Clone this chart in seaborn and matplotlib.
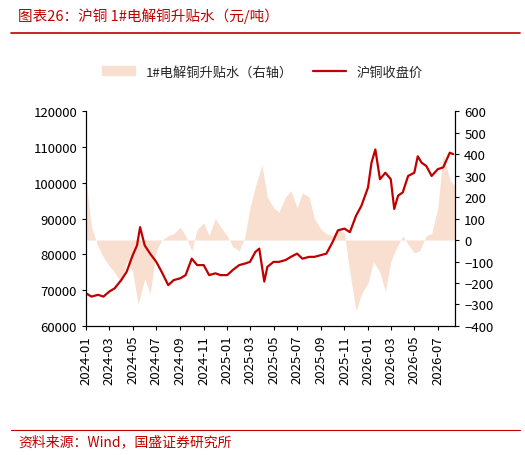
import matplotlib
matplotlib.use("Agg")
import matplotlib.pyplot as plt
import matplotlib.dates as mdates
import pandas as pd
import seaborn as sns
from matplotlib.patches import Patch
from matplotlib.lines import Line2D

sns.set_style("white")
plt.rcParams["font.family"] = ["Noto Sans CJK SC", "DejaVu Sans"]

RED = "#C00000"
PINK = "#F8DFCF"

price_dates = [
    "2024-01-01", "2024-01-15", "2024-02-01", "2024-02-15", "2024-03-01", "2024-03-15",
    "2024-04-01", "2024-04-15", "2024-05-01", "2024-05-12", "2024-05-20", "2024-06-01",
    "2024-06-15", "2024-07-01", "2024-07-15", "2024-08-01", "2024-08-15", "2024-09-01",
    "2024-09-15", "2024-10-01", "2024-10-15", "2024-11-01", "2024-11-15", "2024-12-01",
    "2024-12-15", "2025-01-01", "2025-01-15", "2025-02-01", "2025-02-15", "2025-03-01",
    "2025-03-15", "2025-03-25", "2025-04-07", "2025-04-15", "2025-05-01", "2025-05-15",
    "2025-06-01", "2025-06-15", "2025-07-01", "2025-07-15", "2025-08-01", "2025-08-15",
    "2025-09-01", "2025-09-15", "2025-10-01", "2025-10-15", "2025-11-01", "2025-11-15",
    "2025-12-01", "2025-12-15", "2026-01-01", "2026-01-10", "2026-01-20", "2026-02-01",
    "2026-02-15", "2026-03-01", "2026-03-10", "2026-03-20", "2026-04-01", "2026-04-15",
    "2026-05-01", "2026-05-10", "2026-05-20", "2026-06-01", "2026-06-15", "2026-07-01",
    "2026-07-15", "2026-08-01", "2026-08-10",
]
price = [
    69100, 68200, 68700, 68200, 69600, 70500,
    72800, 75100, 79800, 82500, 87600, 82500,
    80200, 77900, 75100, 71400, 72800, 73300,
    74200, 78800, 77000, 77000, 74200, 74700,
    74200, 74200, 75600, 77000, 77400, 77900,
    80700, 81600, 72400, 76500, 77900, 77900,
    78400, 79300, 80200, 78800, 79300, 79300,
    79800, 80200, 83400, 86700, 87200, 86200,
    90800, 93600, 98700, 105600, 109300, 101000,
    102800, 101000, 92700, 96400, 97300, 101900,
    102800, 107400, 105600, 104700, 101900, 103800,
    104300, 108400, 108000,
]

premium_dates = pd.date_range("2024-01-01", "2026-08-15", freq="SMS")
premium = [
    270, 60, -30, -80, -120, -150, -200, -100, -150, -300, -180, -250,
    -50, 0, 20, 30, 60, 20, -50, 50, 80, 20, 100, 60,
    20, -30, -50, 10, 150, 250, 350, 200, 150, 130, 200, 230,
    150, 220, 200, 100, 50, 30, 20, 50, 30, -150, -330, -250,
    -200, -100, -150, -240, -100, -40, 20, -20, -60, -50, 20, 30,
    150, 400, 280, 250,
]

df_p = pd.DataFrame({"date": pd.to_datetime(price_dates), "price": price})
df_b = pd.DataFrame({"date": premium_dates, "premium": premium})

fig = plt.figure(figsize=(5.25, 4.56), dpi=100)
ax = fig.add_axes([0.164, 0.283, 0.703, 0.471])
ax2 = ax.twinx()

ax2.fill_between(df_b["date"], 0, df_b["premium"], color=PINK, linewidth=0, zorder=1)
ax2.set_ylim(-400, 600)
ax2.set_yticks(range(-400, 601, 100))
ax.set_zorder(ax2.get_zorder() + 1)
ax.patch.set_visible(False)

sns.lineplot(data=df_p, x="date", y="price", ax=ax, color=RED, linewidth=1.6)
ax.set_ylim(60000, 120000)
ax.set_yticks(range(60000, 120001, 10000))
ax.set_xlim(pd.Timestamp("2024-01-01"), pd.Timestamp("2026-08-15"))
ax.xaxis.set_major_locator(mdates.MonthLocator(bymonth=[1, 3, 5, 7, 9, 11]))
ax.xaxis.set_major_formatter(mdates.DateFormatter("%Y-%m"))
ax.set_xlabel("")
ax.set_ylabel("")
ax2.set_ylabel("")
for a in (ax, ax2):
    a.tick_params(labelsize=9.5, length=3, direction="out", colors="black")
    a.spines["top"].set_visible(False)
    for s in ("left", "right", "bottom"):
        a.spines[s].set_color("black")
        a.spines[s].set_linewidth(0.8)
plt.setp(ax.get_xticklabels(), rotation=90)
ax.tick_params(axis="x", bottom=True)
ax.tick_params(axis="y", left=True)
ax2.tick_params(axis="y", right=True)

handles = [Patch(color=PINK, label="1#电解铜升贴水（右轴）"),
           Line2D([], [], color=RED, linewidth=1.6, label="沪铜收盘价")]
fig.legend(handles=handles, loc="center", bbox_to_anchor=(0.5, 0.84), ncol=2,
           frameon=False, fontsize=9.5, handlelength=2.5, columnspacing=1.5)

fig.text(0.035, 0.965, "图表26：沪铜 1#电解铜升贴水（元/吨）", color=RED,
         fontsize=10.5, style="italic", va="center")
fig.add_artist(Line2D([0.02, 0.99], [0.925, 0.925], color=RED, linewidth=1.2))
fig.add_artist(Line2D([0.02, 0.99], [0.055, 0.055], color=RED, linewidth=0.8))
fig.text(0.035, 0.03, "资料来源：Wind，国盛证券研究所", color=RED,
         fontsize=10, style="italic", va="center")

fig.savefig("out.png", dpi=100)
